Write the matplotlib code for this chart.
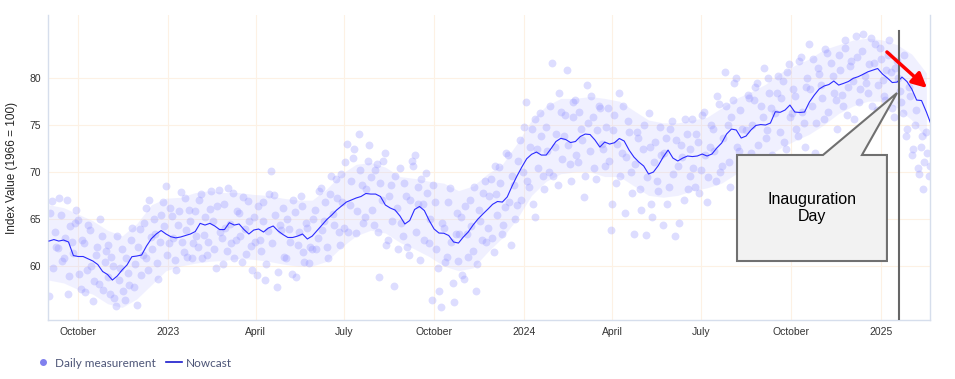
import matplotlib.pyplot as plt
from matplotlib.patches import Polygon
from matplotlib.lines import Line2D
import pandas as pd

# nowcast, read every 5 days from 2022-09-01
nowcast = [
    62.65, 62.81, 62.65, 62.76, 62.55, 61.11, 61.01, 61.01, 60.77, 60.53,
    60.16, 59.42, 59.10, 58.51, 58.94, 59.58, 60.11, 60.99, 61.06, 61.17,
    62.12, 62.90, 63.40, 63.77, 63.40, 63.11, 62.99, 63.08, 63.24, 63.40,
    63.66, 64.53, 64.35, 64.53, 64.25, 63.87, 63.87, 64.60, 64.35, 64.46,
    63.87, 63.40, 63.82, 63.93, 63.61, 64.03, 64.25, 63.72, 63.34, 63.03,
    63.03, 63.18, 63.40, 62.87, 63.18, 63.77, 64.35, 64.94, 65.41, 65.94,
    66.37, 66.79, 67.01, 67.22, 67.38, 67.70, 67.64, 67.64, 67.38, 66.48,
    66.16, 65.94, 65.31, 64.46, 64.83, 66.00, 66.32, 65.89, 64.83, 63.93,
    63.50, 63.48, 63.24, 62.55, 62.44, 63.08, 63.61, 64.35, 64.99, 65.52,
    66.02, 66.55, 66.85, 66.79, 67.33, 68.49, 69.55, 70.51, 71.39, 71.86,
    72.10, 71.78, 71.78, 72.47, 73.22, 73.56, 73.43, 73.11, 73.22, 73.75,
    74.01, 73.96, 73.38, 72.63, 73.16, 72.95, 73.09, 73.54, 73.27, 72.31,
    71.57, 71.04, 70.62, 69.77, 69.98, 70.67, 71.57, 72.31, 71.46, 71.15,
    71.46, 71.68, 71.62, 71.68, 71.89, 71.68, 71.89, 72.53, 73.06, 74.01,
    74.54, 74.44, 73.59, 73.80, 74.44, 74.92, 75.02, 74.97, 75.18, 76.38,
    76.32, 76.56, 77.09, 76.35, 76.30, 76.35, 77.41, 78.15, 78.79, 79.11,
    79.27, 79.64, 79.21, 79.39, 79.59, 79.93, 80.10, 80.35, 80.62, 80.79,
    80.97, 80.38, 79.96, 79.48, 79.53, 80.06, 79.59, 78.79, 77.62, 77.57,
    76.35, 74.97,
]

# uncertainty band, every 15 days from 2022-09-01
band_lo = [
    58.5, 58.2, 57.5, 57.0, 56.0, 55.6, 56.5, 58.0, 59.5, 60.0,
    60.3, 60.5, 60.6, 60.8, 60.7, 60.5, 60.2, 60.0, 60.0, 60.5,
    62.0, 63.2, 63.8, 63.5, 62.5, 61.8, 61.0, 60.0, 59.5, 59.8,
    61.5, 63.0, 65.0, 67.5, 69.0, 69.8, 70.0, 70.0, 69.5, 69.5,
    68.5, 67.5, 67.3, 67.5, 68.0, 68.3, 68.8, 69.8, 70.8, 71.5,
    72.5, 73.3, 74.0, 75.0, 76.2, 77.0, 77.5, 77.5, 76.8, 75.5,
    73.5,
]
band_hi = [
    66.5, 66.2, 65.5, 64.8, 63.8, 63.2, 64.5, 66.5, 67.2, 67.3,
    67.8, 68.0, 67.8, 67.8, 67.6, 67.5, 67.2, 67.0, 67.0, 68.2,
    69.8, 70.8, 71.0, 70.5, 69.5, 69.3, 69.0, 68.8, 68.0, 68.5,
    69.8, 70.8, 73.0, 75.5, 77.0, 77.8, 77.8, 78.0, 77.8, 77.5,
    76.5, 75.5, 75.2, 75.2, 75.5, 75.8, 76.8, 77.8, 78.5, 79.3,
    80.5, 81.3, 82.0, 83.0, 83.5, 84.0, 84.2, 84.0, 83.5, 82.5,
    80.5,
]

# daily measurements: days 0, 3, 6, ... from 2022-09-01
measurements_a = [
    56.8, 66.9, 63.6, 61.9, 65.4, 60.8, 67.0, 58.9, 62.5, 64.6,
    64.9, 57.6, 62.4, 59.6, 63.8, 56.3, 61.2, 58.1, 63.2, 60.4,
    62.2, 57.0, 60.0, 55.8, 58.5, 61.8, 56.4, 59.3, 62.8, 57.8,
    55.9, 63.9, 61.2, 66.2, 59.6, 63.1, 65.0, 60.3, 62.6, 66.8,
    68.5, 62.4, 65.3, 60.6, 64.4, 67.9, 61.5, 63.8, 66.0, 60.9,
    65.8, 62.0, 67.6, 63.3, 61.2, 66.1, 64.8, 59.8, 68.1, 63.0,
    66.6, 61.6, 64.5, 67.8, 62.8, 65.6, 60.4, 63.9, 66.9, 62.1,
    65.2, 59.0, 62.8, 66.8, 58.5, 63.7, 70.1, 67.5, 57.8, 64.4,
    66.2, 60.8, 63.9, 59.1, 65.7, 62.2, 67.4, 61.5, 64.6, 60.3,
    61.8, 66.0, 63.0, 68.3, 64.8, 62.0, 67.6, 65.5, 69.2, 63.6,
    69.8, 64.0, 73.0, 66.5, 71.5, 63.5, 74.0, 68.6, 65.2, 71.2,
    69.5, 64.4, 70.8, 58.8, 67.0, 72.0, 62.8, 68.6, 57.9, 66.2,
    70.4, 63.2, 67.4, 61.2, 71.2, 71.8, 68.4, 60.6, 66.6, 69.9,
    62.4, 56.4, 66.8, 59.8, 55.6, 64.0, 61.0, 68.3, 58.2, 63.4,
    60.5, 65.2, 58.6, 63.4, 67.0, 61.6, 57.3, 66.0, 62.8, 69.0,
    64.0, 69.2, 61.5, 67.6, 70.5, 63.4, 66.3, 71.8, 62.2, 68.6,
    66.5, 73.4, 70.0, 77.4, 68.4, 74.6, 65.2, 72.4, 76.2, 69.6,
    74.8, 70.0, 81.6, 72.6, 68.6, 76.4, 73.8, 80.8, 70.8, 75.8,
    77.6, 71.0, 74.6, 67.3, 79.2, 72.2, 75.8, 69.2, 77.0, 73.0,
    70.6, 76.8, 63.8, 74.4, 68.8, 78.4, 72.0, 65.6, 75.4, 70.0,
    63.4, 74.2, 68.2, 72.4, 63.3, 76.2, 66.6, 71.0, 69.0, 74.8,
    64.4, 73.6, 68.4, 75.4, 63.2, 70.6, 72.8, 67.0, 74.0, 69.6,
    75.6, 68.4, 73.2, 70.2, 76.4, 66.8, 72.6, 74.6, 69.0, 77.2,
    70.6, 80.6, 75.0, 68.4, 77.6, 80.0, 72.2, 74.6, 70.0, 78.2,
    72.0, 77.6, 79.4, 71.4, 75.8, 73.6, 80.0, 76.8, 70.8, 78.4,
    74.2, 79.6, 72.4, 81.4, 76.2, 78.0, 73.8, 82.2, 75.2, 79.0,
    83.6, 77.0, 72.0, 81.0, 79.2, 75.6, 82.6, 70.8, 80.2, 77.6,
    82.4, 78.2, 84.0, 76.0, 81.2, 79.6, 84.4, 77.4, 82.8, 80.2,
    78.4, 84.2, 81.6, 76.6, 83.2, 79.8, 77.6, 82.4, 80.6, 75.8,
    81.8, 78.6, 76.2, 73.8, 79.0, 71.8, 75.0, 70.4, 72.6, 68.2,
    74.2, 69.6,
]
# daily measurements: days 1, 4, 7, ... from 2022-09-01
measurements_b = [
    65.6, 59.8, 62.0, 67.2, 60.5, 63.0, 57.0, 64.2, 61.4, 66.0,
    59.2, 62.8, 57.2, 64.4, 60.0, 58.4, 62.0, 65.0, 57.5, 61.6,
    58.8, 61.0, 56.6, 63.2, 59.8, 57.4, 60.8, 58.0, 64.0, 60.2,
    62.0, 59.0, 64.6, 60.8, 67.0, 61.8, 63.4, 58.6, 65.4, 64.2,
    61.2, 66.2, 63.0, 59.6, 65.8, 62.6, 67.2, 61.0, 64.8, 62.4,
    63.2, 67.0, 60.8, 65.2, 62.6, 68.0, 61.8, 66.4, 63.6, 60.2,
    64.0, 68.3, 62.4, 60.8, 65.8, 63.2, 67.3, 61.3, 64.8, 59.6,
    62.6, 66.4, 61.6, 64.8, 60.2, 67.6, 62.4, 65.4, 59.4, 63.8,
    61.0, 65.0, 62.6, 67.0, 58.8, 63.6, 66.4, 60.4, 64.0, 62.0,
    65.0, 61.8, 68.0, 63.8, 66.8, 60.8, 69.6, 64.4, 67.2, 62.2,
    66.8, 71.0, 63.6, 69.0, 72.4, 65.8, 70.2, 64.6, 68.2, 72.8,
    66.0, 70.2, 63.6, 68.8, 71.2, 62.2, 67.4, 64.8, 69.6, 61.8,
    64.6, 68.8, 62.0, 67.0, 70.6, 63.6, 66.6, 69.2, 62.8, 67.8,
    65.0, 68.6, 61.8, 57.4, 64.6, 60.4, 66.8, 62.6, 56.2, 65.6,
    63.4, 59.0, 66.4, 61.0, 64.2, 68.4, 60.2, 64.8, 67.8, 62.6,
    67.4, 63.0, 70.6, 65.4, 68.8, 64.4, 72.0, 66.8, 69.6, 65.0,
    71.2, 67.0, 74.8, 69.0, 72.6, 66.6, 75.6, 70.4, 73.8, 68.2,
    72.2, 77.0, 69.6, 74.0, 78.4, 71.4, 76.0, 72.8, 69.0, 77.4,
    71.8, 76.4, 73.4, 69.6, 75.2, 78.0, 70.4, 74.4, 76.8, 72.4,
    74.8, 71.2, 66.6, 76.0, 73.0, 69.6, 77.0, 71.6, 74.2, 67.8,
    70.8, 73.6, 66.0, 75.0, 69.4, 72.6, 65.2, 73.2, 68.0, 71.8,
    72.0, 66.6, 74.6, 69.8, 73.4, 64.6, 71.6, 75.6, 68.2, 72.4,
    70.4, 74.0, 67.8, 76.0, 71.8, 69.4, 75.0, 72.2, 78.0, 70.0,
    73.6, 77.0, 71.0, 75.8, 79.4, 72.6, 76.6, 69.6, 74.4, 77.8,
    75.0, 79.0, 72.8, 77.0, 81.0, 74.4, 78.4, 71.8, 76.2, 80.2,
    77.8, 73.2, 80.6, 75.8, 78.8, 74.6, 81.8, 76.4, 72.6, 80.0,
    78.8, 82.0, 75.2, 80.4, 77.8, 83.0, 76.4, 81.6, 78.4, 74.6,
    80.8, 77.0, 83.2, 79.0, 81.8, 75.6, 82.2, 78.8, 84.6, 79.4,
    81.4, 77.0, 83.6, 79.2, 82.0, 78.0, 80.8, 84.0, 76.8, 81.0,
    80.0, 77.4, 82.4, 74.6, 78.0, 72.4, 76.6, 69.8, 73.8, 71.0,
    72.0, 70.6,
]

tick_dates = ['2022-10-01', '2023-01-01', '2023-04-01', '2023-07-01', '2023-10-01',
              '2024-01-01', '2024-04-01', '2024-07-01', '2024-10-01', '2025-01-01']
tick_labels = ['October', '2023', 'April', 'July', 'October',
               '2024', 'April', 'July', 'October', '2025']
y_ticks = [60, 65, 70, 75, 80]
inauguration = '2025-01-20'

now_dates = pd.date_range('2022-09-01', periods=len(nowcast), freq='5D')
band_dates = pd.date_range('2022-09-01', periods=len(band_lo), freq='15D')
meas_a_dates = pd.date_range('2022-09-01', periods=len(measurements_a), freq='3D')
meas_b_dates = pd.date_range('2022-09-02', periods=len(measurements_b), freq='3D')

plt.rcParams['font.family'] = ['Liberation Sans', 'DejaVu Sans']

fig = plt.figure(figsize=(9.55, 3.79), dpi=100)
ax = fig.add_axes([0.0503, 0.1557, 0.9235, 0.8047])

ax.fill_between(band_dates, band_lo, band_hi, color='#ccccff', alpha=0.28, lw=0, zorder=1)
ax.scatter(meas_a_dates, measurements_a, s=32, color='#9999ff', alpha=0.33, lw=0, zorder=2)
ax.scatter(meas_b_dates, measurements_b, s=32, color='#9999ff', alpha=0.33, lw=0, zorder=2)
ax.plot(now_dates, nowcast, color='#2b2bff', lw=0.8, zorder=3)

ax.set_xlim(pd.Timestamp('2022-08-31'), pd.Timestamp('2025-02-20 16:00'))
ax.set_ylim(54.27, 86.65)

ax.set_xticks(pd.to_datetime(tick_dates))
ax.set_xticklabels(tick_labels)
ax.set_yticks(y_ticks)
ax.tick_params(length=0, labelsize=7.5, colors='#333333', pad=5)
ax.grid(True, color='#fdf1e4', lw=0.8, zorder=0)
ax.set_axisbelow(True)

for side in ['left', 'bottom', 'right']:
    ax.spines[side].set_color('#d6deec')
    ax.spines[side].set_linewidth(1)
ax.spines['top'].set_visible(False)

ax.set_ylabel('Index Value (1966 = 100)', fontsize=8.5, color='#222222', labelpad=8)

# inauguration marker line
ax.axvline(pd.Timestamp(inauguration), ymin=0, ymax=0.9475, color='#666666', lw=1.5, zorder=4)

# callout box
callout = Polygon([(0.7812, 0.1934), (0.9512, 0.1934), (0.9512, 0.5410), (0.9229, 0.5410),
                   (0.9626, 0.7443), (0.8787, 0.5410), (0.7812, 0.5410)],
                  closed=True, transform=ax.transAxes, facecolor='#f2f2f2',
                  edgecolor='#707070', lw=1.5, zorder=5)
ax.add_patch(callout)
ax.text(0.866, 0.367, 'Inauguration\nDay', transform=ax.transAxes, ha='center', va='center',
        fontsize=11.5, color='black', linespacing=1.15, zorder=6)

# red arrow
ax.annotate('', xy=(0.9966, 0.7607), xytext=(0.9512, 0.8787), xycoords='axes fraction',
            arrowprops=dict(arrowstyle='-|>', color='red', lw=2.5, mutation_scale=22,
                            shrinkA=0, shrinkB=0), zorder=6)

handles = [Line2D([], [], marker='o', ls='none', color='#8080ee', markersize=4),
           Line2D([], [], color='#1a1acc', lw=1.2)]
fig.legend(handles, ['Daily measurement', 'Nowcast'], loc='center left',
           bbox_to_anchor=(0.025, 0.042), ncol=2, frameon=False, handlelength=1.4,
           handletextpad=0.3, columnspacing=0.9,
           prop={'family': 'Lato', 'size': 8.5}, labelcolor='#4d5577')

plt.savefig('out.png', dpi=100)
